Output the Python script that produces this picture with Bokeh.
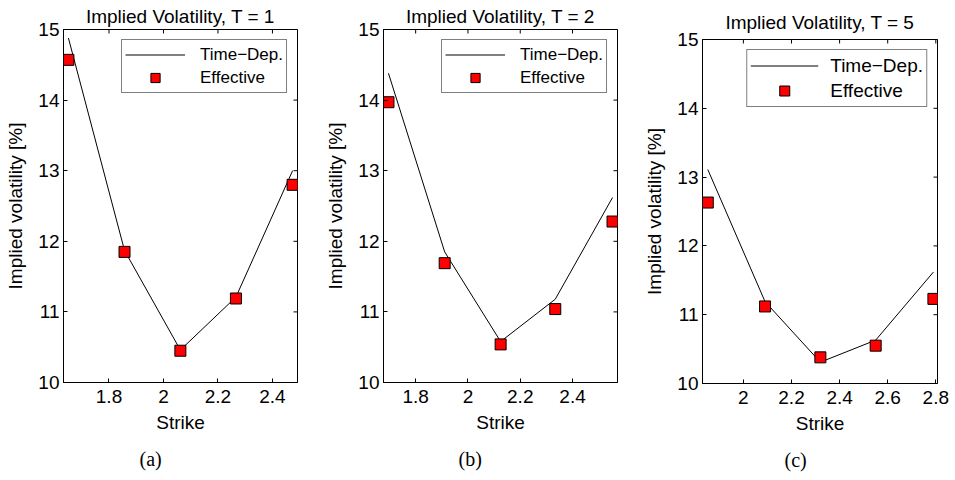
import math
from bokeh.plotting import figure
from bokeh.layouts import row, column
from bokeh.models import Range1d, FixedTicker, Legend, LegendItem, Title, Spacer
from bokeh.embed import file_html
from bokeh.resources import INLINE

# ---- data ----
strike_a = [1.651, 1.857, 2.062, 2.266, 2.474]
timedep_a = [14.88, 11.87, 10.46, 11.21, 13.00]
effective_a = [14.57, 11.85, 10.45, 11.19, 12.80]

strike_b = [1.696, 1.911, 2.125, 2.334, 2.553]
timedep_b = [14.38, 11.85, 10.58, 11.18, 12.62]
effective_b = [13.97, 11.69, 10.54, 11.04, 12.28]

strike_c = [1.852, 2.090, 2.320, 2.550, 2.790]
timedep_c = [13.11, 11.19, 10.31, 10.63, 11.62]
effective_c = [12.63, 11.12, 10.38, 10.55, 11.23]

titles = ["Implied Volatility, T = 1", "Implied Volatility, T = 2", "Implied Volatility, T = 5"]
captions = ["(a)", "(b)", "(c)"]
xticks_ab = [1.8, 2.0, 2.2, 2.4]
xticklabels_ab = ["1.8", "2", "2.2", "2.4"]
xticks_c = [2.0, 2.2, 2.4, 2.6, 2.8]
xticklabels_c = ["2", "2.2", "2.4", "2.6", "2.8"]
yticks = [10, 11, 12, 13, 14, 15]
yticklabels = ["10", "11", "12", "13", "14", "15"]
ylim = (10, 15)

FONT = "Liberation Sans"


def style_axis(ax):
    ax.axis_line_color = "black"
    ax.major_tick_line_color = "black"
    ax.major_tick_in = 4
    ax.major_tick_out = 0
    ax.minor_tick_line_color = None
    ax.major_label_text_font = FONT
    ax.major_label_text_font_size = "19px"
    ax.major_label_text_color = "black"
    ax.axis_label_text_font = FONT
    ax.axis_label_text_font_size = "19px"
    ax.axis_label_text_font_style = "normal"
    ax.axis_label_text_color = "black"


def make_panel(x, td, eff, title, caption, xticks, xticklabels, xr, width, height,
               borders, title_standoff, legend_font, legend_geom, cap_offset):
    bl, br, bt, bb = borders
    p = figure(width=width, height=height, x_range=Range1d(*xr), y_range=Range1d(*ylim),
               output_backend="svg", toolbar_location=None,
               min_border_left=bl, min_border_right=br, min_border_top=bt, min_border_bottom=bb,
               x_axis_label="Strike", y_axis_label="Implied volatility [%]")
    p.title.text = title
    p.title.align = "center"
    p.title.text_font = FONT
    p.title.text_font_size = "19px"
    p.title.text_font_style = "normal"
    p.title.text_color = "black"
    p.title.standoff = title_standoff
    p.grid.visible = False
    p.outline_line_color = "black"
    p.outline_line_width = 1
    p.background_fill_color = "white"
    p.border_fill_color = "white"

    p.xaxis.ticker = FixedTicker(ticks=xticks)
    p.xaxis.major_label_overrides = {t: l for t, l in zip(xticks, xticklabels)}
    p.yaxis.ticker = FixedTicker(ticks=yticks)
    p.yaxis.major_label_overrides = {t: l for t, l in zip(yticks, yticklabels)}
    for ax in p.xaxis:
        style_axis(ax)
        ax.major_label_standoff = 7
        ax.axis_label_standoff = 6
    for ax in p.yaxis:
        style_axis(ax)
        ax.major_label_standoff = 4
        ax.axis_label_standoff = 9

    # mirrored inward ticks on the top and right edges (clipped to the frame)
    p.scatter(xticks, [ylim[1]] * len(xticks), marker="dash", angle=math.pi / 2,
              size=8, line_color="black", line_width=1)
    p.scatter([xr[1]] * len(yticks), yticks, marker="dash", angle=0,
              size=8, line_color="black", line_width=1)

    lr = p.line(x, td, line_color="black", line_width=1)
    sr = p.scatter(x, eff, marker="square", size=11, fill_color="red", line_color="black", line_width=1)

    pad, gw, stand, spacing, lh, margin = legend_geom
    legend = Legend(items=[LegendItem(label="Time\u2212Dep.", renderers=[lr]),
                           LegendItem(label="Effective", renderers=[sr])],
                    location="top_right")
    legend.border_line_color = "black"
    legend.border_line_width = 1
    legend.background_fill_alpha = 1
    legend.label_text_font = FONT
    legend.label_text_font_size = legend_font
    legend.label_text_color = "black"
    legend.padding = pad
    legend.glyph_width = gw
    legend.glyph_height = lh
    legend.label_height = lh
    legend.label_standoff = stand
    legend.spacing = spacing
    legend.margin = margin
    p.add_layout(legend)

    cap = Title(text=caption, align="left", offset=cap_offset, text_font="Liberation Serif",
                text_font_size="20px", text_font_style="normal", text_color="black",
                standoff=20, vertical_align="bottom")
    p.add_layout(cap, "below")
    return p


pa = make_panel(strike_a, timedep_a, effective_a, titles[0], captions[0], xticks_ab, xticklabels_ab,
                (1.633, 2.492), 310, 480, (63, 13, 29, 98), 5, "17px", (3, 60, 15, 0, 23, 10), 76)
pb = make_panel(strike_b, timedep_b, effective_b, titles[1], captions[1], xticks_ab, xticklabels_ab,
                (1.677, 2.572), 320, 480, (73, 13, 29, 98), 5, "17px", (3, 60, 15, 0, 23, 10), 75)
pc = make_panel(strike_c, timedep_c, effective_c, titles[2], captions[2], xticks_c, xticklabels_c,
                (1.830, 2.807), 325, 479, (72, 18, 38, 96), 14, "19px", (3, 68, 12, 0, 25, 10), 82)

layout = row(pa, pb, column(Spacer(width=325, height=1), pc))
open("out.html", "w").write(file_html(layout, INLINE))
